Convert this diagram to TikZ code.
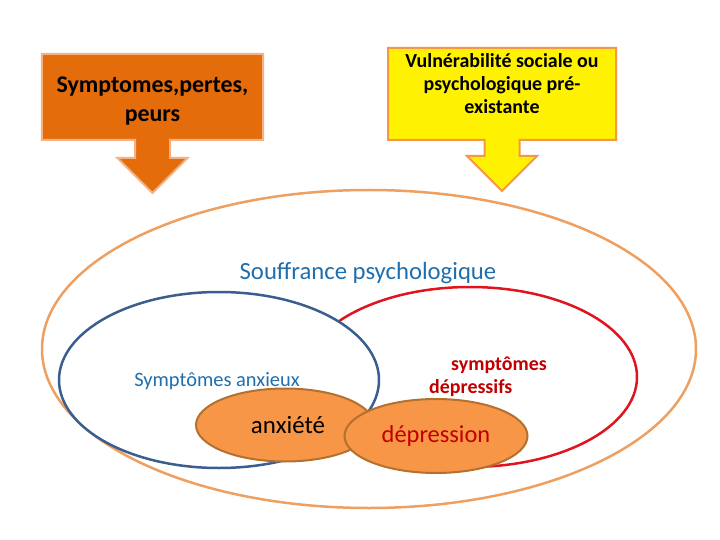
\documentclass[tikz,border=0pt]{standalone}
\usepackage{fontspec}
\setmainfont{Carlito}
\usetikzlibrary{shapes.arrows,shapes.geometric}

\definecolor{darkorange}{HTML}{E46C0A}
\definecolor{paleorange}{HTML}{F4B183}
\definecolor{ringorange}{HTML}{EDA060}
\definecolor{ringblue}{HTML}{3A5F8F}
\definecolor{ringred}{HTML}{E0141E}
\definecolor{blobfill}{HTML}{F79646}
\definecolor{blobedge}{HTML}{B3702F}
\definecolor{textblue}{HTML}{1F6FAF}
\definecolor{textred}{HTML}{C00000}

\begin{document}
\begin{tikzpicture}[x=1bp, y=-1bp,
    callout/.style={arrow box, line width=2bp, inner sep=0pt, align=center,
                    arrow box shaft width=35bp, arrow box head extend=17.5bp},
    blob/.style={ellipse, draw=blobedge, fill=blobfill, line width=2bp, inner sep=0pt}]
    \useasboundingbox (0, 0) rectangle (720, 540);

    % top boxes with their arrows
    \node[callout, draw=paleorange, fill=darkorange, minimum width=221bp, minimum height=86bp,
          arrow box arrows={south:52bp}, text height=52bp, font=\bfseries\fontsize{24}{29}\selectfont]
          (pertes) at (152.5, 97) {Symptomes,pertes,\\peurs};
    \node[callout, draw=blobfill, fill=yellow, minimum width=228bp, minimum height=92bp,
          arrow box arrows={south:50bp}, text depth=21bp, font=\bfseries\fontsize{20}{23.5}\selectfont]
          (vulnerabilite) at (502, 94) {Vulnérabilité sociale ou\\psychologique pré-\\existante};

    % rings: souffrance, depressifs, anxieux
    \draw[ringorange, line width=2.5bp] (369, 349) ellipse [x radius=327, y radius=159];
    \draw[ringred, line width=2.5bp] (470, 377) ellipse [x radius=167, y radius=90];
    \draw[ringblue, line width=2.5bp, fill=white] (219, 380) ellipse [x radius=160, y radius=88];

    % blobs: anxiete, depression
    \node[blob, minimum width=178bp, minimum height=73bp, font=\fontsize{25}{29}\selectfont]
          (anxiete) at (285, 425) {\hspace*{6bp}anxiété};
    \node[blob, minimum width=183bp, minimum height=74bp, text=textred, font=\fontsize{24.5}{29}\selectfont]
          (depression) at (436, 436) {dépression};

    % labels
    \node[text=textblue, font=\fontsize{24.8}{29}\selectfont] (souffrance) at (368, 273) {Souffrance psychologique};
    \node[text=textblue, font=\fontsize{20.5}{24}\selectfont] (anxieux) at (217, 381) {Symptômes anxieux};
    \node[text=textred, align=left, font=\bfseries\fontsize{20}{23}\selectfont]
          (depressifs) at (488, 377) {\hspace*{22bp}symptômes\\dépressifs};
\end{tikzpicture}
\end{document}
